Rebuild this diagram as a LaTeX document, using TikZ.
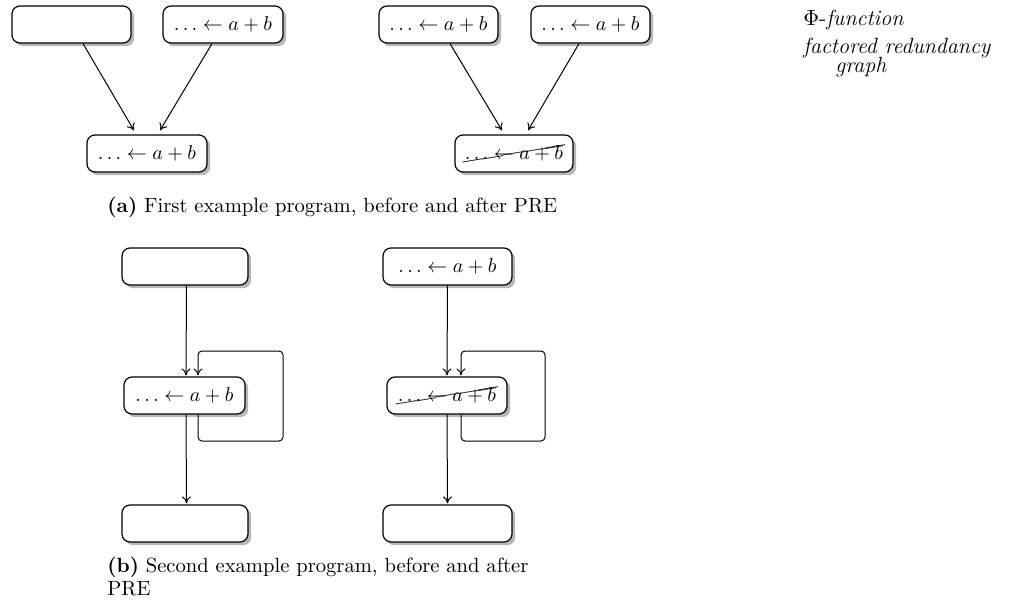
\documentclass[tikz,border=0pt]{standalone}
\usepackage{cancel}
\usetikzlibrary{arrows.meta,shadows}
\tikzset{
  blk/.style={draw, line width=0.6pt, rounded corners=4pt, fill=white, minimum height=18.5pt, inner sep=0pt,
    drop shadow={shadow xshift=1.6pt, shadow yshift=-1.6pt, opacity=0.4, fill=black!70}},
  arr/.style={-{To[length=3.5pt,width=4.5pt]}, line width=0.5pt},
  loopline/.style={arr, rounded corners=2pt},
  captext/.style={anchor=base west, inner sep=0pt, font=\fontsize{10.3}{11.5}\selectfont, align=left},
  note/.style={anchor=base west, inner sep=0pt, font=\fontsize{11}{11}\selectfont\itshape}
}
\begin{document}
\begin{tikzpicture}[x=0.5pt,y=-0.5pt]
\useasboundingbox (0,0) rectangle (1014,611);
% part (a) left
\node[blk, minimum width=59.5pt] (A1) at (71.5,24.5) {};
\node[blk, minimum width=60pt] (A2) at (223,24.5) {$\ldots\leftarrow a+b$};
\node[blk, minimum width=60pt] (A3) at (147,153.5) {$\ldots\leftarrow a+b$};
\draw[arr] ([xshift=5.75pt]A1.south) -- ([xshift=-6.5pt,yshift=2pt]A3.north);
\draw[arr] ([xshift=-5.5pt]A2.south) -- ([xshift=6.5pt,yshift=2pt]A3.north);
% part (a) right
\node[blk, minimum width=59.5pt] (B1) at (438.5,24.5) {$\ldots\leftarrow a+b$};
\node[blk, minimum width=59.5pt] (B2) at (590.5,24.5) {$\ldots\leftarrow a+b$};
\node[blk, minimum width=59pt] (B3) at (514,153.5) {$\cancel{\ldots\leftarrow a+b}$};
\draw[arr] ([xshift=5.75pt]B1.south) -- ([xshift=-6pt,yshift=2pt]B3.north);
\draw[arr] ([xshift=-5.75pt]B2.south) -- ([xshift=7pt,yshift=2pt]B3.north);
% part (b) left
\node[blk, minimum width=63pt] (C1) at (185,266.5) {};
\node[blk, minimum width=60.5pt] (C2) at (184.5,395.5) {$\ldots\leftarrow a+b$};
\node[blk, minimum width=63pt] (C3) at (185,523.5) {};
\draw[arr] ([xshift=0.75pt]C1.south) -- ([xshift=0.75pt,yshift=0.5pt]C2.north);
\draw[arr] ([xshift=0.75pt]C2.south) -- ([xshift=0.75pt,yshift=0.5pt]C3.north);
\draw[loopline] ([xshift=6.75pt]C2.south) |- (283,441) |- (198,351) -- ([xshift=6.75pt,yshift=0.5pt]C2.north);
% part (b) right
\node[blk, minimum width=64.5pt] (D1) at (447.5,266.5) {$\ldots\leftarrow a+b$};
\node[blk, minimum width=60pt] (D2) at (447,395.5) {$\cancel{\ldots\leftarrow a+b}$};
\node[blk, minimum width=64.5pt] (D3) at (447.5,523.5) {};
\draw[arr] (D1.south) -- ([yshift=0.5pt]D2.north);
\draw[arr] (D2.south) -- ([yshift=0.5pt]D3.north);
\draw[loopline] ([xshift=7pt]D2.south) |- (545,441) |- (461,351) -- ([xshift=7pt,yshift=0.5pt]D2.north);
% captions
\node[captext] (capa) at (107,212) {\textbf{(a)} First example program, before and after PRE};
\node[captext] (capb) at (107,595) {\textbf{(b)} Second example program, before and after\\PRE};
% margin notes
\node[note] (n1) at (803,25) {\upshape$\Phi$-\itshape function};
\node[note] (n2) at (803,53) {factored redundancy};
\node[note] (n3) at (835,72) {graph};
\end{tikzpicture}
\end{document}
